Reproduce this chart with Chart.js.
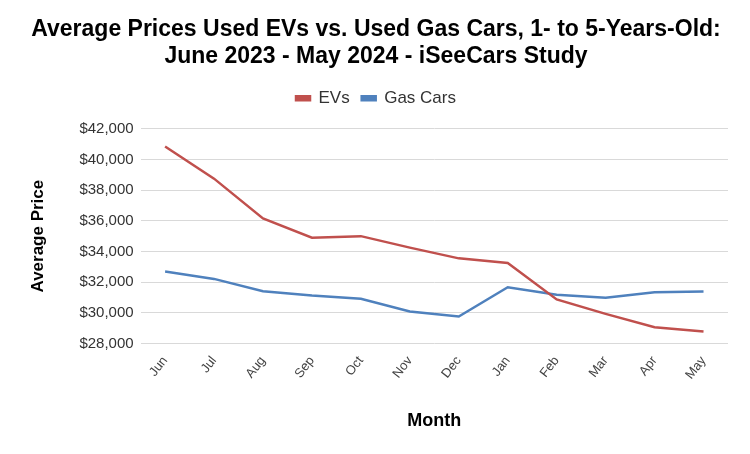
<!DOCTYPE html>
<html>
<head>
<meta charset="utf-8">
<script src="https://cdn.jsdelivr.net/npm/chart.js@4"></script>
<style>
  html, body { margin: 0; padding: 0; background: #fff; }
  #wrap { width: 750px; height: 454px; }
</style>
</head>
<body>
<div id="wrap"><canvas id="chart" width="750" height="454"></canvas></div>
<script>
// values
const months = ['Jun', 'Jul', 'Aug', 'Sep', 'Oct', 'Nov', 'Dec', 'Jan', 'Feb', 'Mar', 'Apr', 'May'];
const evPrices = [40850, 38750, 36150, 34900, 35000, 34250, 33550, 33250, 30870, 29930, 29060, 28780];
const gasPrices = [32690, 32210, 31410, 31120, 30910, 30080, 29760, 31670, 31170, 30980, 31340, 31390];
const titleLines = ['Average Prices Used EVs vs. Used Gas Cars, 1- to 5-Years-Old:', 'June 2023 - May 2024 - iSeeCars Study'];

const red = '#c0504d';
const blue = '#4f81bd';
const font = '"Liberation Sans", Arial, sans-serif';

// extra room between legend and plot
const legendGap = {
  id: 'legendGap',
  beforeInit(chart) {
    const fit = chart.legend.fit;
    chart.legend.fit = function () {
      fit.call(this);
      this.height += 12;
    };
  }
};

new Chart(document.getElementById('chart'), {
  type: 'line',
  data: {
    labels: months,
    datasets: [
      { label: 'EVs', data: evPrices, borderColor: red, backgroundColor: red, borderWidth: 2.5, pointRadius: 0, tension: 0 },
      { label: 'Gas Cars', data: gasPrices, borderColor: blue, backgroundColor: blue, borderWidth: 2.5, pointRadius: 0, tension: 0 }
    ]
  },
  plugins: [legendGap],
  options: {
    responsive: false,
    animation: false,
    layout: { padding: { left: 24, right: 22, top: 10, bottom: 18 } },
    plugins: {
      title: {
        display: true,
        text: titleLines,
        color: '#000',
        font: { family: font, size: 23, weight: 'bold', lineHeight: 1.17 },
        padding: { top: 6, bottom: 8 }
      },
      legend: {
        position: 'top',
        labels: { boxWidth: 14, boxHeight: 4, color: '#333', padding: 12, font: { family: font, size: 17 } }
      },
      tooltip: { enabled: false }
    },
    scales: {
      x: {
        offset: true,
        grid: { display: false },
        border: { display: false },
        ticks: { color: '#444', minRotation: 52, maxRotation: 52, padding: 2, font: { family: font, size: 13 } },
        title: { display: true, text: 'Month', color: '#000', font: { family: font, size: 18, weight: 'bold' }, padding: { top: 26 } }
      },
      y: {
        min: 28000,
        max: 42000,
        grid: { color: '#d9d9d9', drawTicks: false },
        border: { display: false },
        ticks: {
          stepSize: 2000,
          color: '#333',
          padding: 7,
          font: { family: font, size: 15 },
          callback: v => '$' + v.toLocaleString('en-US')
        },
        title: { display: true, text: 'Average Price', color: '#000', font: { family: font, size: 17, weight: 'bold' }, padding: { bottom: 24 } }
      }
    }
  }
});
</script>
</body>
</html>
